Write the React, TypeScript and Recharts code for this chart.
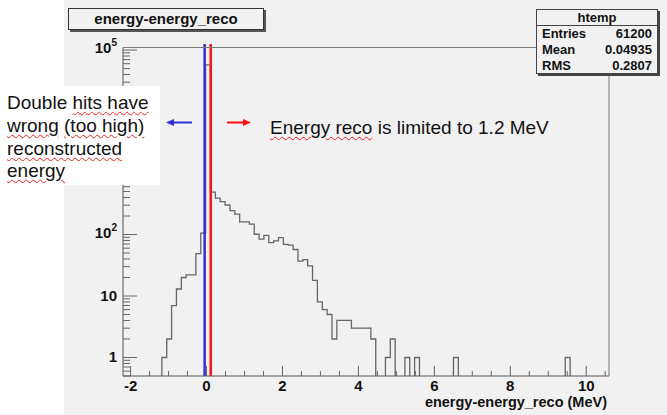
import { LineChart, Line, XAxis, YAxis, ReferenceLine } from 'recharts'

// histogram binning (100 bins from -2.2)
const BIN_LOW = -2.2
const BIN_WIDTH = 0.128

// entries per bin
const binCounts = [
  0, 0, 0, 0, 0, 0, 0, 0, 1, 2,
  7, 13, 20, 22, 22, 49, 105, 57600, 490, 390,
  343, 302, 244, 215, 161, 161, 148, 101, 84, 97,
  74, 79, 89, 69, 67, 57, 37, 39, 31, 18,
  8, 6, 5, 2, 4, 4, 4, 3, 3, 3,
  3, 2, 0, 0, 1, 2, 0, 0, 1, 0,
  1, 0, 0, 0, 0, 0, 0, 0, 1, 0,
  0, 0, 0, 0, 0, 0, 0, 0, 0, 0,
  0, 0, 0, 0, 0, 0, 0, 0, 0, 0,
  0, 1, 0, 0, 0, 0, 0, 0, 0, 0,
]

const xMajorTicks = [-2, 0, 2, 4, 6, 8, 10]
const xMinorTicks = [-1.5, -1, -0.5, 0.5, 1, 1.5, 2.5, 3, 3.5, 4.5, 5, 5.5, 6.5, 7, 7.5, 8.5, 9, 9.5, 10.5]
const yDecades = [1, 10, 100, 1000, 10000, 100000]
// 10^3 and 10^4 labels sit under the white note box in the original
const yLabelled = [1, 10, 100, 100000]
const yMinorSteps = [2, 3, 4, 5, 6, 7, 8, 9]

const stats = [
  ['Entries', '61200'],
  ['Mean', '0.04935'],
  ['RMS', '0.2807'],
]

const CUT_LOW = -0.05 // blue line
const CUT_HIGH = 0.11 // red line

const FLOOR = 0.1 // empty bins fall off the log scale
const FRAME_L = 123
const FRAME_R = 609
const FRAME_T = 47.5
const FRAME_B = 376
const FONT = '"Liberation Sans", Arial, Helvetica, sans-serif'
const BG = '#f1f1f1'

const data = binCounts.map((c, i) => ({ x: BIN_LOW + i * BIN_WIDTH, n: c > 0 ? c : FLOOR }))
data.push({ x: BIN_LOW + binCounts.length * BIN_WIDTH, n: data[data.length - 1].n })

const xTicks = [...xMajorTicks, ...xMinorTicks].sort((a, b) => a - b)
const yTicks = [0.5, 0.6, 0.7, 0.8, 0.9]
for (const d of yDecades) {
  yTicks.push(d)
  if (d < 100000) for (const m of yMinorSteps) yTicks.push(d * m)
}

function XTick(props: any) {
  const { x, payload } = props
  const major = xMajorTicks.includes(payload.value)
  return (
    <g>
      <line x1={x} x2={x} y1={FRAME_B} y2={FRAME_B - (major ? 10 : 5)} stroke="#666" />
      {major && (
        <text x={x} y={391} textAnchor="middle" fontSize={15} fontWeight="bold" fontFamily={FONT} fill="#111">
          {payload.value}
        </text>
      )}
    </g>
  )
}

function YTick(props: any) {
  const { y, payload } = props
  const v = payload.value
  const exp = Math.round(Math.log10(v))
  const major = yDecades.includes(v)
  let label = null
  if (yLabelled.includes(v)) {
    if (exp < 2) {
      label = (
        <text x={117} y={y + 5} textAnchor="end" fontSize={15} fontWeight="bold" fontFamily={FONT} fill="#111">
          {v}
        </text>
      )
    } else {
      label = (
        <text x={117} y={y + 3} textAnchor="end" fontSize={15} fontWeight="bold" fontFamily={FONT} fill="#111">
          10
          <tspan fontSize={10} dy={-7}>{exp}</tspan>
        </text>
      )
    }
  }
  return (
    <g>
      <line x1={FRAME_L} x2={FRAME_L + (major ? 14 : 7)} y1={y} y2={y} stroke="#666" />
      {label}
    </g>
  )
}

const wavy = { textDecoration: 'underline wavy #e22', textDecorationThickness: 1, textUnderlineOffset: 2 } as const

export default function App() {
  return (
    <div style={{ position: 'absolute', left: 0, top: 0, width: 667, height: 415, background: '#fff', overflow: 'hidden', fontFamily: FONT }}>
      <div style={{ position: 'absolute', left: 64, top: 0, right: 0, bottom: 0, background: BG }} />
      <div style={{ position: 'absolute', left: 0, top: 0 }}>
        <LineChart width={667} height={415} data={data} margin={{ top: FRAME_T, right: 667 - FRAME_R, bottom: 9, left: 63 }}>
          <XAxis
            dataKey="x"
            type="number"
            domain={[BIN_LOW, 10.6]}
            allowDataOverflow
            ticks={xTicks}
            interval={0}
            height={30}
            axisLine={{ stroke: '#555' }}
            tickLine={false}
            tick={<XTick />}
          />
          <YAxis
            type="number"
            scale="log"
            domain={[0.5, 110000]}
            allowDataOverflow
            ticks={yTicks}
            interval={0}
            width={60}
            axisLine={{ stroke: '#555' }}
            tickLine={false}
            tick={<YTick />}
          />
          <Line
            type="stepAfter"
            dataKey="n"
            stroke="#666"
            strokeWidth={1.3}
            dot={false}
            isAnimationActive={false}
          />
          <ReferenceLine
            segment={[{ x: CUT_LOW, y: 0.5 }, { x: CUT_LOW, y: 125000 }]}
            ifOverflow="visible"
            stroke="#3030d8"
            strokeWidth={2.5}
          />
          <ReferenceLine
            segment={[{ x: CUT_HIGH, y: 0.5 }, { x: CUT_HIGH, y: 125000 }]}
            ifOverflow="visible"
            stroke="#ff1010"
            strokeWidth={2.5}
          />
        </LineChart>
      </div>

      <svg width={667} height={415} style={{ position: 'absolute', left: 0, top: 0, pointerEvents: 'none' }}>
        <line x1={FRAME_L} x2={FRAME_R} y1={FRAME_T} y2={FRAME_T} stroke="#777" />
        <line x1={FRAME_R} x2={FRAME_R} y1={FRAME_T} y2={FRAME_B} stroke="#777" />
        <line x1={173} x2={192} y1={122.5} y2={122.5} stroke="#3030d8" strokeWidth={2} />
        <polygon points="166,122.5 174,119 174,126" fill="#3030d8" />
        <line x1={227} x2={244} y1={122.5} y2={122.5} stroke="#ff1010" strokeWidth={2} />
        <polygon points="251,122.5 243,119 243,126" fill="#ff1010" />
      </svg>

      {/* title box */}
      <div style={{
        position: 'absolute', left: 68, top: 8, width: 194, height: 20, background: BG,
        border: '1px solid #333', boxShadow: '2px 2px 0 #555', textAlign: 'center',
        fontSize: 15, fontWeight: 'bold', lineHeight: '20px', color: '#111',
      }}>
        energy-energy_reco
      </div>

      {/* stats box */}
      <div style={{
        position: 'absolute', left: 536, top: 9, width: 120, height: 63, background: BG,
        border: '1px solid #444', boxShadow: '2px 2px 0 #444', fontSize: 13, fontWeight: 'bold', color: '#111',
      }}>
        <div style={{ textAlign: 'center', height: 15, lineHeight: '15px', borderBottom: '1px solid #444' }}>htemp</div>
        {stats.map(([k, v]) => (
          <div key={k} style={{ display: 'flex', justifyContent: 'space-between', padding: '0 5px 0 5px', height: 16, lineHeight: '16px' }}>
            <span>{k}</span>
            <span>{v}</span>
          </div>
        ))}
      </div>

      {/* axis title */}
      <div style={{ position: 'absolute', right: 667 - 607, top: 395, fontSize: 14.5, lineHeight: '15px', fontWeight: 'bold', color: '#111', whiteSpace: 'nowrap' }}>
        energy-energy_reco (MeV)
      </div>

      {/* annotations */}
      <div style={{
        position: 'absolute', left: 0, top: 86, width: 160, height: 99, background: '#fff',
        fontSize: 19, lineHeight: '22.8px', color: '#111', padding: '6px 0 0 7px', boxSizing: 'border-box', whiteSpace: 'nowrap',
      }}>
        <div>Double <span style={wavy}>hits have</span></div>
        <div><span style={wavy}>wrong</span> <span style={wavy}>(too high)</span></div>
        <div><span style={wavy}>reconstructed</span></div>
        <div><span style={wavy}>energy</span></div>
      </div>
      <div style={{ position: 'absolute', left: 270, top: 116, fontSize: 19, lineHeight: '24px', color: '#111', whiteSpace: 'nowrap' }}>
        <span style={wavy}>Energy reco</span> is limited to 1.2 MeV
      </div>
    </div>
  )
}
